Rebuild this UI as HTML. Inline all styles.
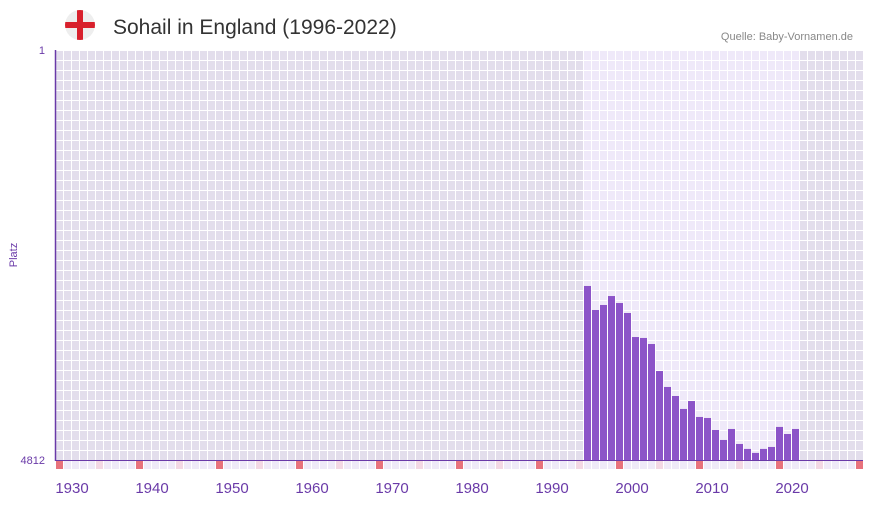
<!DOCTYPE html>
<html><head><meta charset="utf-8"><style>
body{margin:0;background:#fff;width:873px;height:502px;overflow:hidden;font-family:"Liberation Sans",sans-serif}
</style></head><body>
<svg id="c" width="873" height="502" xmlns="http://www.w3.org/2000/svg">
<defs>
<pattern id="gd" x="55" y="50" width="8" height="10" patternUnits="userSpaceOnUse"><rect width="8" height="10" fill="#fff"/><rect x="1" y="1" width="7" height="9" fill="#e3deec"/></pattern>
<pattern id="gl" x="55" y="50" width="8" height="10" patternUnits="userSpaceOnUse"><rect width="8" height="10" fill="#fff"/><rect x="1" y="1" width="7" height="9" fill="#efe9f9"/></pattern>
<clipPath id="fc"><circle cx="80" cy="25" r="15"/></clipPath>
</defs>
<g clip-path="url(#fc)">
<circle cx="80" cy="25" r="15" fill="#eeeeee"/>
<rect x="65" y="22" width="30" height="6" fill="#d8202c"/><rect x="77" y="10" width="6" height="30" fill="#d8202c"/>
</g>
<text x="113" y="34" font-size="21" fill="#333">Sohail in England (1996-2022)</text>
<text x="853" y="40" font-size="11" fill="#888" text-anchor="end">Quelle: Baby-Vornamen.de</text>
<rect x="55" y="50" width="808" height="410" fill="url(#gd)"/>
<g id="bars"></g>
<g id="strip"></g>
<line x1="55.5" y1="50" x2="55.5" y2="461" stroke="#6a3aa8" stroke-width="1.5"/>
<line x1="55" y1="460.5" x2="863" y2="460.5" stroke="#6a3aa8" stroke-width="1"/>
<text x="45" y="54" font-size="11" fill="#6a3aa8" text-anchor="end">1</text>
<text x="45" y="464" font-size="11" fill="#6a3aa8" text-anchor="end">4812</text>
<text x="17" y="255" font-size="11" fill="#6a3aa8" text-anchor="middle" transform="rotate(-90 17 255)">Platz</text>
<g id="xl"></g>
</svg>
<script>
const years=[1996,1997,1998,1999,2000,2001,2002,2003,2004,2005,2006,2007,2008,2009,2010,2011,2012,2013,2014,2015,2016,2017,2018,2019,2020,2021,2022];
const ranks=[2770,3052,2993,2888,2970,3087,3369,3380,3451,3768,3955,4061,4213,4120,4307,4319,4460,4577,4448,4624,4682,4729,4682,4659,4424,4507,4448];
const tickYears=[1930,1940,1950,1960,1970,1980,1990,2000,2010,2020];
const maxRank=4812;
const NS="http://www.w3.org/2000/svg";
const xs=y=>56+(y-1930)*8;
const ys=r=>50+(r-1)/(maxRank-1)*410;
const svg=document.getElementById('c');
function mk(t,a){const e=document.createElementNS(NS,t);for(const k in a)e.setAttribute(k,a[k]);return e;}
const minY=Math.min(...years),maxY=Math.max(...years);
const hl=mk('rect',{x:xs(minY)-1,y:50,width:(maxY-minY+1)*8,height:410,fill:'url(#gl)'});


svg.insertBefore(hl,document.getElementById('bars'));
const bg=document.getElementById('bars');
years.forEach((y,i)=>{const t=ys(ranks[i]);const r=mk('rect',{x:xs(y),y:t,width:7,height:460-t,fill:'#8c54c8'});


bg.appendChild(r);});
const st=document.getElementById('strip');
for(let y=1930;y<=2030;y++){const m=(y%10===0)?'#e8727c':(y%5===0?'#f3d8e4':'#efeaf8');
const r=mk('rect',{x:xs(y),y:461,width:7,height:8,fill:m});


st.appendChild(r);}
const xl=document.getElementById('xl');
tickYears.forEach(y=>{const t=mk('text',{x:xs(y)+16,y:493,'font-size':15,fill:'#6a3aa8','text-anchor':'middle'});t.textContent=y;


xl.appendChild(t);});
</script>
</body></html>
